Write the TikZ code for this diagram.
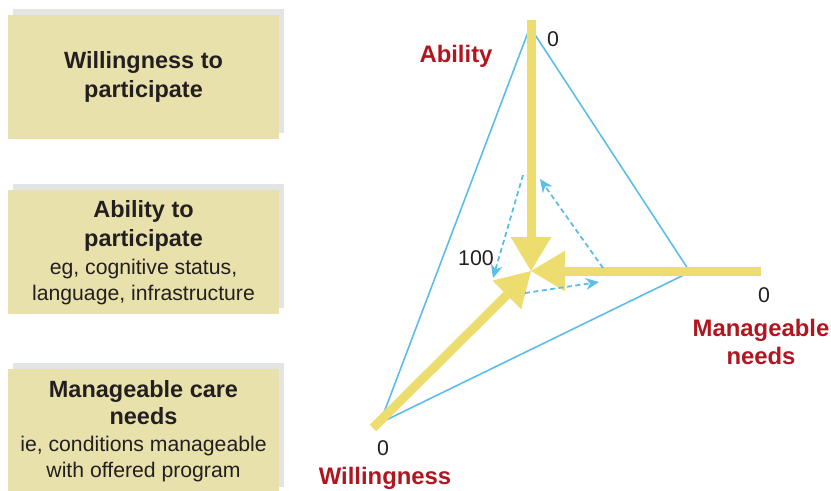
\documentclass[tikz,border=0pt]{standalone}
\usepackage{fontspec}
\setmainfont{Liberation Sans}
\usepackage{xcolor}
\usetikzlibrary{arrows.meta,positioning,shadows}

\definecolor{boxfill}{HTML}{E8E1AB}
\definecolor{shadowgray}{HTML}{E3E4E6}
\definecolor{bigyellow}{HTML}{ECDD6E}
\definecolor{lineblue}{HTML}{5DBDE9}
\definecolor{labelred}{HTML}{B0161F}
\definecolor{textgray}{HTML}{231F20}

\newcommand{\headfont}{\fontsize{17.6}{21.7}\selectfont\bfseries}
\newcommand{\notefont}{\fontsize{15.9}{19.5}\selectfont}

\begin{document}
\begin{tikzpicture}[
				x = 0.75pt, y = -0.75pt, % pixel grid, y pointing down
				> = Stealth, % arrow head style
				semithick % line style
			]
			
			\tikzstyle{box}=[
			fill = boxfill,
			minimum width = 203pt,
			minimum height = 93pt,
			align = center,
			text = textgray,
			font = \notefont,
			general shadow = {fill = shadowgray, shadow xshift = 3.75pt, shadow yshift = 4.5pt}
			]
			\tikzstyle{bigarrow}=[
			draw = bigyellow,
			line width = 6.75pt,
			-{Triangle[length = 25.5pt, width = 30.5pt, line width = 0pt, fill = bigyellow]}
			]
			\tikzstyle{moveline}=[
			draw = lineblue,
			line width = 1.35pt,
			dash pattern = on 3.75pt off 2.6pt,
			-{Stealth[length = 10pt, width = 9pt, line width = 0pt, fill = lineblue]}
			]
			\tikzstyle{axislabel}=[
			text = labelred,
			font = \fontsize{17.9}{20.5}\selectfont\bfseries,
			align = center
			]
			\tikzstyle{tick}=[
			text = textgray,
			font = \fontsize{16}{19}\selectfont,
			inner sep = 0pt,
			anchor = base
			]
			
			\useasboundingbox (0,0) rectangle (831,490);
			
			% boxes on the left
			\node[box] (will) at (143.5,77) {{\headfont Willingness to}\\[2.2pt]{\headfont participate}};
			\node[box, below = 38pt of will] (abil) {{\headfont Ability to}\\[2.2pt]{\headfont participate}\\[1.5pt]eg, cognitive status,\\language, infrastructure};
			\node[box, below = 40.5pt of abil] (care) {{\headfont Manageable care}\\[1pt]{\headfont needs}\\[0.8pt]ie, conditions manageable\\with offered program};
			
			% corners of the triangle
			\coordinate (top) at (530,27);
			\coordinate (right) at (690,272);
			\coordinate (left) at (380,423);
			\draw[lineblue, line width = 1.2pt] (top) -- (right) -- (left) -- cycle;
			
			% yellow axes
			\coordinate (c) at (531,271);
			\coordinate (ab0) at (531,20);
			\coordinate (mn0) at (761,271);
			\coordinate (wi0) at (373,428);
			\draw[bigarrow] (ab0) -- (c);
			\draw[bigarrow] (mn0) -- (c);
			\draw[bigarrow] (wi0) -- (c);
			
			% dashed shifts
			\coordinate (s1) at (523,175);
			\coordinate (e1) at (493,278);
			\coordinate (s2) at (603,268);
			\coordinate (e2) at (540,179);
			\coordinate (s3) at (525,293);
			\coordinate (e3) at (599,282);
			\draw[moveline] (s1) -- (e1);
			\draw[moveline] (s2) -- (e2);
			\draw[moveline] (s3) -- (e3);
			
			% labels
			\node[axislabel, anchor = base] (ablbl) at (456,62) {Ability};
			\node[axislabel] (mnlbl) at (761,342) {Manageable\\needs};
			\node[axislabel, anchor = base] (wilbl) at (385,484) {Willingness};
			\node[tick] (t1) at (553,46) {0};
			\node[tick] (t2) at (764,302) {0};
			\node[tick] (t3) at (383,455) {0};
			\node[tick] (t4) at (476,265) {100};
		\end{tikzpicture}
\end{document}
